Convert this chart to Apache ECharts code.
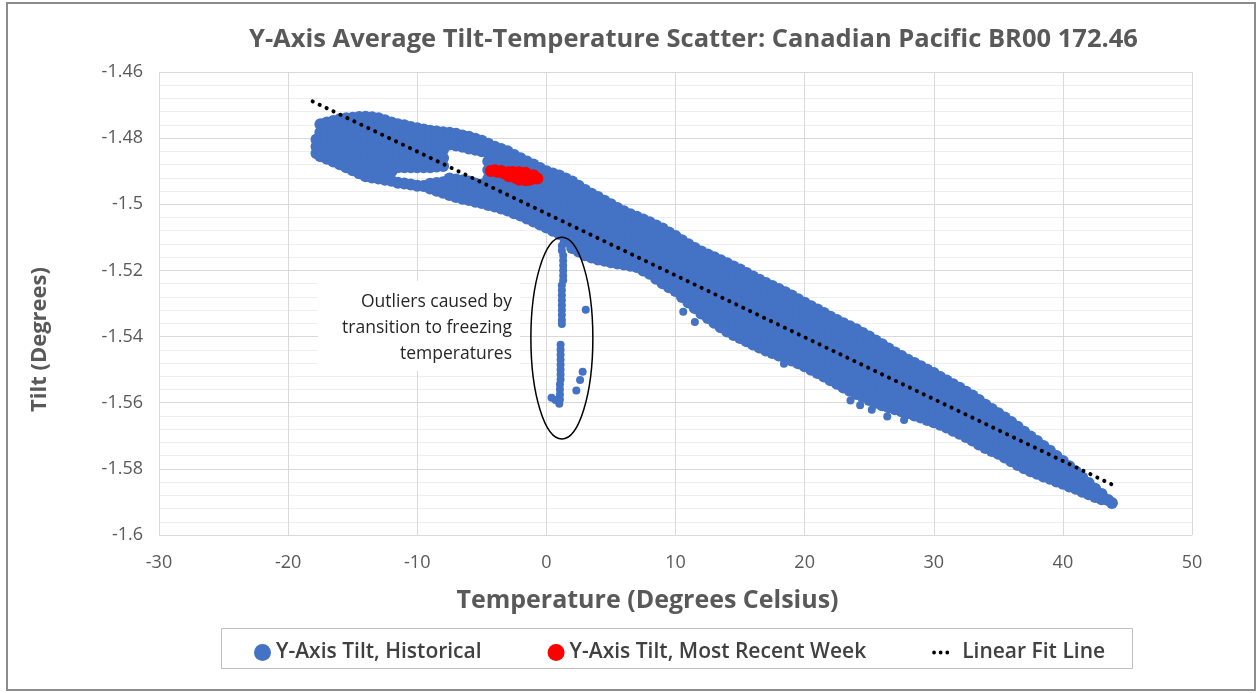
<!DOCTYPE html>
<html><head><meta charset="utf-8">
<script src="https://cdn.jsdelivr.net/npm/echarts@6/dist/echarts.min.js"></script>
<style>html,body{margin:0;padding:0;background:#fff;}#c{width:1257px;height:693px;}</style>
</head><body><div id="c"></div>
<script>
// ---- axis ticks ----
const xTickValues = [-30, -20, -10, 0, 10, 20, 30, 40, 50];
const yTickValues = [-1.6, -1.58, -1.56, -1.54, -1.52, -1.5, -1.48, -1.46];

// ---- historical readings: each row = [temperature, tilt, tilt, ...] ----
const historicalColumns = [
[-17.8,-1.4804,-1.4825,-1.4846],
[-17.5,-1.4758,-1.4782,-1.4806,-1.4831,-1.4855],
[-17,-1.4753,-1.4780,-1.4808,-1.4835,-1.4862],
[-16.5,-1.4748,-1.4773,-1.4797,-1.4822,-1.4846,-1.4871],
[-16,-1.4743,-1.4770,-1.4797,-1.4825,-1.4852,-1.4879],
[-15.5,-1.4740,-1.4770,-1.4799,-1.4829,-1.4858,-1.4888],
[-15,-1.4738,-1.4765,-1.4791,-1.4818,-1.4844,-1.4871,-1.4897],
[-14.5,-1.4736,-1.4764,-1.4793,-1.4821,-1.4849,-1.4878,-1.4906],
[-14,-1.4735,-1.4765,-1.4795,-1.4825,-1.4855,-1.4885,-1.4915],
[-13.5,-1.4737,-1.4763,-1.4789,-1.4815,-1.4841,-1.4867,-1.4893,-1.4919],
[-13,-1.4740,-1.4766,-1.4792,-1.4818,-1.4844,-1.4870,-1.4896,-1.4922],
[-12.5,-1.4746,-1.4776,-1.4806,-1.4836,-1.4866,-1.4896,-1.4926],
[-12,-1.4753,-1.4782,-1.4812,-1.4841,-1.4870,-1.4900,-1.4929],
[-11.5,-1.4758,-1.4784,-1.4809,-1.4835,-1.4860,-1.4888,-1.4935],
[-11,-1.4761,-1.4786,-1.4811,-1.4836,-1.4861,-1.4888,-1.4937],
[-10.5,-1.4766,-1.4790,-1.4814,-1.4838,-1.4862,-1.4888,-1.4940],
[-10,-1.4770,-1.4793,-1.4816,-1.4840,-1.4863,-1.4888,-1.4944],
[-9.5,-1.4774,-1.4797,-1.4819,-1.4841,-1.4864,-1.4888,-1.4945],
[-9,-1.4778,-1.4805,-1.4832,-1.4859,-1.4888,-1.4938,-1.4952],
[-8.5,-1.4780,-1.4807,-1.4833,-1.4860,-1.4886,-1.4936,-1.4959],
[-8,-1.4782,-1.4808,-1.4834,-1.4860,-1.4884,-1.4933,-1.4965],
[-7.5,-1.4784,-1.4802,-1.4819,-1.4922,-1.4947,-1.4972],
[-7,-1.4787,-1.4805,-1.4822,-1.4925,-1.4952,-1.4978],
[-6.5,-1.4792,-1.4809,-1.4826,-1.4928,-1.4955,-1.4983],
[-6,-1.4796,-1.4813,-1.4831,-1.4931,-1.4959,-1.4987],
[-5.5,-1.4802,-1.4819,-1.4835,-1.4937,-1.4964,-1.4992],
[-5,-1.4808,-1.4824,-1.4840,-1.4940,-1.4968,-1.4996],
[-4.5,-1.4817,-1.4843,-1.4870,-1.4896,-1.4923,-1.4949,-1.4976,-1.5002],
[-4,-1.4826,-1.4856,-1.4886,-1.4917,-1.4947,-1.4977,-1.5007],
[-3.5,-1.4833,-1.4863,-1.4893,-1.4923,-1.4953,-1.4983,-1.5013],
[-3,-1.4840,-1.4870,-1.4900,-1.4930,-1.4959,-1.4989,-1.5019],
[-2.5,-1.4851,-1.4880,-1.4910,-1.4939,-1.4968,-1.4998,-1.5027],
[-2,-1.4861,-1.4890,-1.4919,-1.4948,-1.4976,-1.5005,-1.5034],
[-1.5,-1.4871,-1.4900,-1.4928,-1.4957,-1.4986,-1.5014,-1.5043],
[-1,-1.4880,-1.4909,-1.4937,-1.4966,-1.4995,-1.5023,-1.5052],
[-0.5,-1.4890,-1.4919,-1.4947,-1.4976,-1.5004,-1.5033,-1.5061],
[0,-1.4900,-1.4928,-1.4957,-1.4985,-1.5013,-1.5042,-1.5070],
[0.5,-1.4907,-1.4936,-1.4965,-1.4994,-1.5022,-1.5051,-1.5080],
[1,-1.4913,-1.4943,-1.4972,-1.5002,-1.5031,-1.5061,-1.5090],
[1.5,-1.4922,-1.4949,-1.4976,-1.5003,-1.5030,-1.5057,-1.5084,-1.5111],
[2,-1.4931,-1.4960,-1.4988,-1.5017,-1.5046,-1.5074,-1.5103,-1.5132],
[2.5,-1.4944,-1.4972,-1.5001,-1.5029,-1.5058,-1.5086,-1.5115,-1.5143],
[3,-1.4957,-1.4985,-1.5013,-1.5041,-1.5070,-1.5098,-1.5126,-1.5154],
[3.5,-1.4968,-1.4996,-1.5023,-1.5051,-1.5078,-1.5106,-1.5133,-1.5161],
[4,-1.4978,-1.5005,-1.5032,-1.5059,-1.5086,-1.5113,-1.5140,-1.5167],
[4.5,-1.4989,-1.5019,-1.5050,-1.5080,-1.5110,-1.5141,-1.5171],
[5,-1.5000,-1.5029,-1.5058,-1.5088,-1.5117,-1.5146,-1.5175],
[5.5,-1.5011,-1.5039,-1.5067,-1.5095,-1.5123,-1.5151,-1.5179],
[6,-1.5021,-1.5048,-1.5075,-1.5102,-1.5128,-1.5155,-1.5182],
[6.5,-1.5030,-1.5061,-1.5092,-1.5124,-1.5155,-1.5186],
[7,-1.5038,-1.5068,-1.5099,-1.5129,-1.5160,-1.5190],
[7.5,-1.5046,-1.5077,-1.5108,-1.5138,-1.5169,-1.5200],
[8,-1.5054,-1.5085,-1.5116,-1.5148,-1.5179,-1.5210],
[8.5,-1.5064,-1.5091,-1.5118,-1.5145,-1.5171,-1.5198,-1.5225],
[9,-1.5073,-1.5101,-1.5128,-1.5156,-1.5184,-1.5211,-1.5239],
[9.5,-1.5085,-1.5113,-1.5140,-1.5168,-1.5196,-1.5223,-1.5251],
[10,-1.5096,-1.5124,-1.5151,-1.5179,-1.5207,-1.5234,-1.5262],
[10.5,-1.5109,-1.5138,-1.5166,-1.5195,-1.5223,-1.5252,-1.5280],
[11,-1.5121,-1.5150,-1.5180,-1.5209,-1.5238,-1.5268,-1.5297],
[11.5,-1.5132,-1.5162,-1.5193,-1.5223,-1.5253,-1.5284,-1.5314],
[12,-1.5143,-1.5174,-1.5205,-1.5236,-1.5268,-1.5299,-1.5330],
[12.5,-1.5152,-1.5179,-1.5207,-1.5234,-1.5262,-1.5289,-1.5317,-1.5344],
[13,-1.5160,-1.5188,-1.5217,-1.5245,-1.5273,-1.5301,-1.5330,-1.5358],
[13.5,-1.5169,-1.5198,-1.5227,-1.5256,-1.5285,-1.5314,-1.5343,-1.5372],
[14,-1.5178,-1.5208,-1.5237,-1.5267,-1.5296,-1.5326,-1.5355,-1.5385],
[14.5,-1.5188,-1.5218,-1.5247,-1.5277,-1.5306,-1.5336,-1.5365,-1.5395],
[15,-1.5197,-1.5227,-1.5256,-1.5286,-1.5315,-1.5345,-1.5374,-1.5404],
[15.5,-1.5208,-1.5237,-1.5267,-1.5296,-1.5326,-1.5355,-1.5385,-1.5414],
[16,-1.5218,-1.5247,-1.5277,-1.5306,-1.5336,-1.5365,-1.5395,-1.5424],
[16.5,-1.5228,-1.5257,-1.5287,-1.5316,-1.5345,-1.5374,-1.5404,-1.5433],
[17,-1.5238,-1.5267,-1.5296,-1.5325,-1.5354,-1.5384,-1.5413,-1.5442],
[17.5,-1.5247,-1.5276,-1.5305,-1.5334,-1.5363,-1.5392,-1.5421,-1.5450],
[18,-1.5256,-1.5285,-1.5313,-1.5342,-1.5371,-1.5400,-1.5428,-1.5457],
[18.5,-1.5266,-1.5294,-1.5323,-1.5351,-1.5380,-1.5408,-1.5437,-1.5465],
[19,-1.5276,-1.5304,-1.5332,-1.5360,-1.5388,-1.5416,-1.5444,-1.5472],
[19.5,-1.5287,-1.5315,-1.5342,-1.5370,-1.5398,-1.5426,-1.5453,-1.5481],
[20,-1.5298,-1.5325,-1.5353,-1.5380,-1.5408,-1.5435,-1.5463,-1.5490],
[20.5,-1.5308,-1.5335,-1.5363,-1.5390,-1.5418,-1.5445,-1.5473,-1.5500],
[21,-1.5318,-1.5345,-1.5373,-1.5400,-1.5428,-1.5455,-1.5483,-1.5510],
[21.5,-1.5329,-1.5356,-1.5384,-1.5411,-1.5439,-1.5466,-1.5494,-1.5521],
[22,-1.5340,-1.5367,-1.5395,-1.5422,-1.5450,-1.5477,-1.5505,-1.5532],
[22.5,-1.5350,-1.5378,-1.5405,-1.5433,-1.5460,-1.5488,-1.5515,-1.5543],
[23,-1.5360,-1.5388,-1.5416,-1.5443,-1.5471,-1.5499,-1.5526,-1.5554],
[23.5,-1.5369,-1.5397,-1.5425,-1.5453,-1.5481,-1.5508,-1.5536,-1.5564],
[24,-1.5378,-1.5406,-1.5434,-1.5462,-1.5490,-1.5518,-1.5546,-1.5574],
[24.5,-1.5389,-1.5417,-1.5445,-1.5472,-1.5500,-1.5528,-1.5555,-1.5583],
[25,-1.5400,-1.5427,-1.5455,-1.5482,-1.5510,-1.5537,-1.5565,-1.5592],
[25.5,-1.5412,-1.5443,-1.5475,-1.5506,-1.5537,-1.5569,-1.5600],
[26,-1.5423,-1.5454,-1.5485,-1.5516,-1.5546,-1.5577,-1.5608],
[26.5,-1.5436,-1.5466,-1.5495,-1.5525,-1.5555,-1.5584,-1.5614],
[27,-1.5448,-1.5477,-1.5505,-1.5534,-1.5563,-1.5591,-1.5620],
[27.5,-1.5459,-1.5487,-1.5515,-1.5543,-1.5570,-1.5598,-1.5626],
[28,-1.5470,-1.5497,-1.5524,-1.5551,-1.5578,-1.5605,-1.5632],
[28.5,-1.5480,-1.5507,-1.5533,-1.5560,-1.5586,-1.5613,-1.5639],
[29,-1.5490,-1.5521,-1.5552,-1.5583,-1.5614,-1.5645],
[29.5,-1.5500,-1.5530,-1.5561,-1.5591,-1.5622,-1.5652],
[30,-1.5510,-1.5540,-1.5570,-1.5599,-1.5629,-1.5659],
[30.5,-1.5522,-1.5551,-1.5580,-1.5609,-1.5638,-1.5667],
[31,-1.5533,-1.5561,-1.5590,-1.5618,-1.5647,-1.5675],
[31.5,-1.5544,-1.5572,-1.5600,-1.5629,-1.5657,-1.5685],
[32,-1.5555,-1.5583,-1.5611,-1.5638,-1.5666,-1.5694],
[32.5,-1.5567,-1.5594,-1.5622,-1.5649,-1.5677,-1.5704],
[33,-1.5578,-1.5605,-1.5632,-1.5660,-1.5687,-1.5714],
[33.5,-1.5592,-1.5619,-1.5646,-1.5672,-1.5699,-1.5726],
[34,-1.5606,-1.5632,-1.5658,-1.5685,-1.5711,-1.5737],
[34.5,-1.5619,-1.5644,-1.5670,-1.5695,-1.5721,-1.5746],
[35,-1.5632,-1.5663,-1.5693,-1.5724,-1.5754],
[35.5,-1.5645,-1.5675,-1.5706,-1.5736,-1.5766],
[36,-1.5658,-1.5688,-1.5718,-1.5747,-1.5777],
[36.5,-1.5673,-1.5702,-1.5730,-1.5759,-1.5788],
[37,-1.5688,-1.5716,-1.5743,-1.5771,-1.5798],
[37.5,-1.5702,-1.5728,-1.5755,-1.5781,-1.5807],
[38,-1.5716,-1.5741,-1.5765,-1.5790,-1.5815],
[38.5,-1.5731,-1.5762,-1.5792,-1.5823],
[39,-1.5745,-1.5773,-1.5802,-1.5830],
[39.5,-1.5761,-1.5787,-1.5812,-1.5838],
[40,-1.5776,-1.5799,-1.5822,-1.5845],
[40.5,-1.5792,-1.5823,-1.5853],
[41,-1.5808,-1.5834,-1.5860],
[41.5,-1.5826,-1.5848,-1.5869],
[42,-1.5843,-1.5860,-1.5877],
[42.5,-1.5860,-1.5885],
[43,-1.5876,-1.5892],
[43.5,-1.5894],
[43.8,-1.5903]
];

// ---- historical outliers (freezing transition and stragglers) ----
const historicalOutliers = [
[1.2,-1.5125],[1.2,-1.5140],[1.3,-1.5155],[1.3,-1.5170],[1.3,-1.5185],[1.3,-1.5200],
[1.3,-1.5215],[1.3,-1.5230],[1.2,-1.5245],[1.2,-1.5260],[1.2,-1.5275],[1.2,-1.5290],
[1.2,-1.5305],[1.2,-1.5320],[1.2,-1.5335],[1.2,-1.5350],[1.2,-1.5362],
[1.1,-1.5425],[1.1,-1.5440],[1.1,-1.5455],[1.1,-1.5470],[1.1,-1.5485],[1.1,-1.5500],
[1.1,-1.5515],[1.1,-1.5530],[1.05,-1.5545],[1.05,-1.5560],[1.05,-1.5575],[1.05,-1.5590],
[0.4,-1.5585],[0.7,-1.5592],[1.0,-1.5603],
[3.05,-1.5319],[2.81,-1.5506],[2.61,-1.5531],[2.32,-1.5563],
[10.6,-1.5325],[11.5,-1.5356],[18.4,-1.5482],
[23.55,-1.5593],[24.3,-1.5608],[25.2,-1.5621],[26.4,-1.5642],[27.7,-1.5652]
];

// ---- most recent week ----
const recentWeek = [
[-4.3,-1.4899],[-4.0,-1.4897],[-3.8,-1.4902],[-3.5,-1.4899],[-3.3,-1.4906],
[-2.9,-1.4903],[-2.9,-1.4915],[-2.6,-1.4902],[-2.4,-1.4907],[-2.4,-1.4920],
[-2.1,-1.4903],[-2.1,-1.4926],[-1.9,-1.4907],[-1.9,-1.4922],[-1.6,-1.4905],
[-1.6,-1.4927],[-1.5,-1.4912],[-1.3,-1.4926],[-1.0,-1.4912],[-1.0,-1.4922],
[-0.7,-1.4922]
];

// ---- linear fit line ----
const fitTemps = [-18.1, 44.1];
const fitTilts = [-1.4689, -1.5853];

const FONT = "'Open Sans', 'Liberation Sans', sans-serif";
const historicalData = historicalColumns
  .flatMap(c => c.slice(1).map(y => [c[0], y]))
  .concat(historicalOutliers.map(p => ({ value: p, symbolSize: 8 })));
const fitData = fitTemps.map((t, i) => [t, fitTilts[i]]);
const dotsIcon = 'path://M0,0a2,2 0 1,0 4,0a2,2 0 1,0 -4,0M7,0a2,2 0 1,0 4,0a2,2 0 1,0 -4,0M14,0a2,2 0 1,0 4,0a2,2 0 1,0 -4,0';

const chart = echarts.init(document.getElementById('c'), null, { renderer: 'canvas' });
chart.setOption({
  animation: false,
  backgroundColor: '#ffffff',
  title: {
    text: 'Y-Axis Average Tilt-Temperature Scatter: Canadian Pacific BR00 172.46',
    left: 244, top: 22,
    textStyle: { fontFamily: FONT, fontSize: 25.5, fontWeight: 'bold', color: '#595959' }
  },
  grid: { left: 159, right: 65, top: 72, bottom: 158, containLabel: false },
  xAxis: {
    type: 'value',
    min: xTickValues[0], max: xTickValues[xTickValues.length - 1], interval: 10,
    name: 'Temperature (Degrees Celsius)', nameLocation: 'middle', nameGap: 53,
    nameTextStyle: { fontFamily: FONT, fontSize: 25, fontWeight: 'bold', color: '#595959', padding: [0, 56, 0, 0] },
    axisLine: { show: false }, axisTick: { show: false },
    axisLabel: { margin: 19, fontFamily: FONT, fontSize: 18, color: '#595959' },
    splitLine: { show: true, lineStyle: { color: '#d9d9d9', width: 1 } }
  },
  yAxis: {
    type: 'value',
    min: yTickValues[0], max: yTickValues[yTickValues.length - 1], interval: 0.02,
    name: 'Tilt (Degrees)', nameLocation: 'middle', nameGap: 108, nameRotate: 90,
    nameTextStyle: { fontFamily: FONT, fontSize: 22, fontWeight: 'bold', color: '#595959', padding: [0, 72, 0, 0] },
    axisLine: { show: false }, axisTick: { show: false },
    axisLabel: { margin: 16, fontFamily: FONT, fontSize: 18, color: '#595959',
      formatter: v => String(parseFloat(v.toFixed(2))) },
    splitLine: { show: true, lineStyle: { color: '#d9d9d9', width: 1 } },
    minorTick: { show: false, splitNumber: 5 },
    minorSplitLine: { show: true, lineStyle: { color: '#eeeeee', width: 1 } }
  },
  legend: {
    left: 249, top: 637,
    itemWidth: 17, itemHeight: 17, itemGap: 66,
    textStyle: { fontFamily: FONT, fontSize: 21, fontWeight: 600, color: '#404040' },
    data: [
      { name: 'Y-Axis Tilt, Historical', icon: 'circle' },
      { name: 'Y-Axis Tilt, Most Recent Week', icon: 'circle' },
      { name: 'Linear Fit Line', icon: dotsIcon, itemStyle: { color: '#000000' },
        textStyle: { padding: [0, 0, 0, 8] } }
    ]
  },
  series: [
    {
      name: 'Y-Axis Tilt, Historical', type: 'scatter', symbol: 'circle', symbolSize: 12,
      itemStyle: { color: '#4472C4', opacity: 1 }, emphasis: { disabled: true },
      data: historicalData, z: 2
    },
    {
      name: 'Y-Axis Tilt, Most Recent Week', type: 'scatter', symbol: 'circle', symbolSize: 12,
      itemStyle: { color: '#FF0000', opacity: 1 }, emphasis: { disabled: true },
      data: recentWeek, z: 3
    },
    {
      name: 'Linear Fit Line', type: 'line', symbol: 'none', showSymbol: false,
      lineStyle: { color: '#000000', width: 4, type: [0.1, 7.6], cap: 'round' },
      itemStyle: { color: '#000000' },
      data: fitData, z: 4, silent: true
    }
  ]
});

// annotation ellipse positioned in data space
const cTop = chart.convertToPixel({ gridIndex: 0 }, [1.2, -1.5100]);
const cBot = chart.convertToPixel({ gridIndex: 0 }, [1.2, -1.5710]);
const cLeft = chart.convertToPixel({ gridIndex: 0 }, [-1.2, -1.5405]);
const cRight = chart.convertToPixel({ gridIndex: 0 }, [3.6, -1.5405]);
chart.setOption({
  graphic: [
    { type: 'rect', z: -10, silent: true, shape: { x: 7, y: 3, width: 1248, height: 687 },
      style: { fill: 'none', stroke: '#8c8c8c', lineWidth: 2 } },
    { type: 'rect', z: 1, silent: true, shape: { x: 318, y: 281, width: 202, height: 90 },
      style: { fill: '#ffffff' } },
    { type: 'text', z: 5, silent: true, x: 512, y: 289,
      style: { text: 'Outliers caused by\ntransition to freezing\ntemperatures', fill: '#262626',
        font: '17.5px ' + FONT, align: 'right', verticalAlign: 'top', lineHeight: 26 } },
    { type: 'ellipse', z: 5, silent: true,
      shape: { cx: (cLeft[0] + cRight[0]) / 2, cy: (cTop[1] + cBot[1]) / 2,
               rx: (cRight[0] - cLeft[0]) / 2, ry: (cBot[1] - cTop[1]) / 2 },
      style: { fill: 'none', stroke: '#000000', lineWidth: 1.5 } },
    { type: 'rect', z: 0, silent: true, shape: { x: 221.5, y: 628.5, width: 911, height: 40 },
      style: { fill: 'none', stroke: '#bfbfbf', lineWidth: 1 } }
  ]
});
</script></body></html>
